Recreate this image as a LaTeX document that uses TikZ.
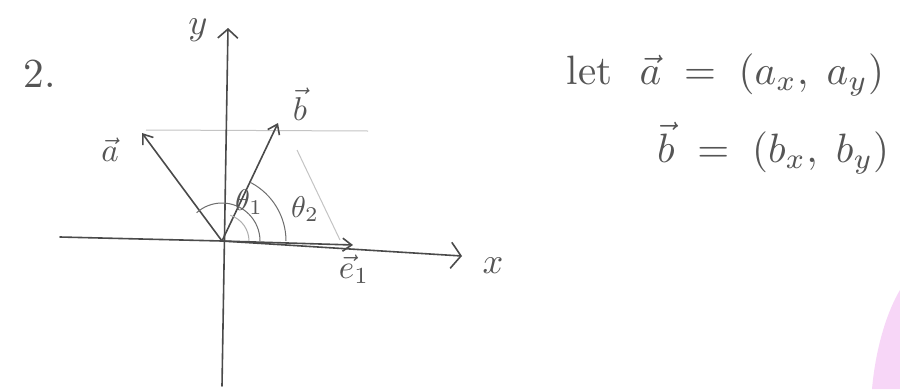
\documentclass[tikz,border=0pt]{standalone}
\usetikzlibrary{arrows.meta}
\definecolor{pencil}{HTML}{4A4A4A}
\definecolor{pentext}{HTML}{555555}
\definecolor{faint}{HTML}{C4C4C4}
\definecolor{blob}{HTML}{F7D6F7}
\begin{document}
\begin{tikzpicture}[x=1pt,y=-1pt,
  pen/.style={draw=pencil,line width=1.6pt,line cap=round,line join=round},
  vecline/.style={pen,-{Straight Barb[length=9pt,width=13pt,line width=1.6pt]}},
  thin/.style={draw=pencil!80,line width=1pt},
  faintline/.style={draw=faint,line width=1pt},
  lab/.style={text=pentext,inner sep=0pt,scale=3.3,transform shape},
  thlab/.style={text=pentext,inner sep=0pt,scale=3,transform shape},
  eqtext/.style={text=pentext,inner sep=0pt,scale=4.1,transform shape}]
\useasboundingbox (0,0) rectangle (900,389);
\fill[white] (0,0) rectangle (900,389);
% pink blob bottom right
\fill[blob] (900,290) .. controls (888,310) and (876,345) .. (872,389) -- (900,389) -- cycle;
% coordinates
\coordinate (O) at (222,241);
\coordinate (xl) at (60,237);
\coordinate (xr) at (462,256);
\coordinate (yb) at (222,386);
\coordinate (yt) at (228,28);
\coordinate (atip) at (142,133);
\coordinate (btip) at (278,123);
\coordinate (etip) at (353,245);
\coordinate (hl) at (146,130);
\coordinate (hr) at (368,131);
\coordinate (pt) at (297,150);
\coordinate (pb) at (340,240);
% faint construction lines
\draw[faintline] (hl) -- (hr);
\draw[faintline] (pt) -- (pb);
% axes
\draw[pen,-{Straight Barb[length=9pt,width=20pt,line width=1.6pt]}] (yb) -- (yt);
\draw[pen,-{Straight Barb[length=10pt,width=26pt,line width=1.6pt]}] (xl) -- (O) -- (xr);
% vectors
\draw[vecline] (O) -- (atip);
\draw[vecline] (O) -- (btip);
\draw[vecline] (O) -- (etip);
% angle arcs
\draw[thin] ([shift={(0:38)}]O) arc[start angle=0,end angle=-132,radius=38];
\draw[faintline,draw=pencil!45] ([shift={(0:27)}]O) arc[start angle=0,end angle=-72,radius=27];
\draw[thin] ([shift={(0:64)}]O) arc[start angle=0,end angle=-62,radius=66];
% labels
\node[lab,scale=1.25] (two) at (40,74) {2.};
\node[lab,scale=1.1] (ylab) at (198,30) {$y$};
\node[lab,scale=1.1] (xlab) at (493,266) {$x$};
\node[lab] (alab) at (110,150) {$\vec a$};
\node[lab] (blab) at (300,104) {$\vec b$};
\node[lab] (elab) at (354,269) {$\vec e_1$};
\node[thlab] (t1) at (249,202) {$\theta_1$};
\node[thlab] (t2) at (305,209) {$\theta_2$};
% equations
\node[eqtext,anchor=west] (eq1) at (566,75) {let\ \ $\vec a \;=\; (a_x,\; a_y)$};
\node[eqtext,anchor=east] (eq2) at (890,148) {$\vec b \;=\; (b_x,\; b_y)$};
\end{tikzpicture}
\end{document}
